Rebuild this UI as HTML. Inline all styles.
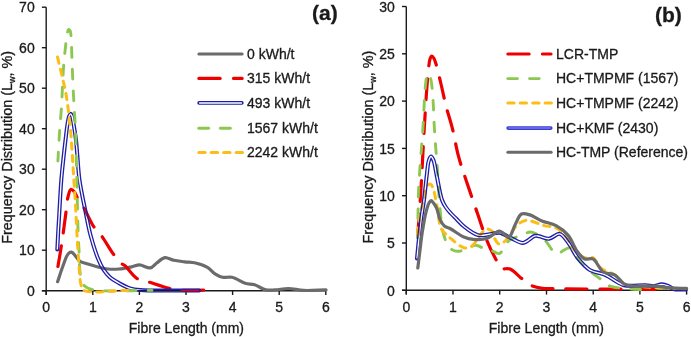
<!DOCTYPE html>
<html><head><meta charset="utf-8"><style>
html,body{margin:0;padding:0;background:#fff;width:691px;height:337px;overflow:hidden}
svg{display:block;will-change:transform}
text{font-family:"Liberation Sans", sans-serif;fill:#1a1a1a;stroke:#1a1a1a;stroke-width:0.3px}
</style></head><body>
<svg width="691" height="337" viewBox="0 0 691 337">
<rect width="691" height="337" fill="#fff"/>
<path d="M46.2 7.2 L46.2 295.0" stroke="#1a1a1a" stroke-width="1.4"/>
<path d="M41.9 290.7 L325.8 290.7" stroke="#1a1a1a" stroke-width="1.4"/>
<path d="M41.9 290.7 L46.2 290.7" stroke="#1a1a1a" stroke-width="1.4"/>
<text x="34.7" y="295.9" text-anchor="end" font-size="14">0</text>
<path d="M41.9 250.2 L46.2 250.2" stroke="#1a1a1a" stroke-width="1.4"/>
<text x="34.7" y="255.4" text-anchor="end" font-size="14">10</text>
<path d="M41.9 209.7 L46.2 209.7" stroke="#1a1a1a" stroke-width="1.4"/>
<text x="34.7" y="214.9" text-anchor="end" font-size="14">20</text>
<path d="M41.9 169.2 L46.2 169.2" stroke="#1a1a1a" stroke-width="1.4"/>
<text x="34.7" y="174.4" text-anchor="end" font-size="14">30</text>
<path d="M41.9 128.7 L46.2 128.7" stroke="#1a1a1a" stroke-width="1.4"/>
<text x="34.7" y="133.9" text-anchor="end" font-size="14">40</text>
<path d="M41.9 88.2 L46.2 88.2" stroke="#1a1a1a" stroke-width="1.4"/>
<text x="34.7" y="93.4" text-anchor="end" font-size="14">50</text>
<path d="M41.9 47.7 L46.2 47.7" stroke="#1a1a1a" stroke-width="1.4"/>
<text x="34.7" y="52.9" text-anchor="end" font-size="14">60</text>
<path d="M41.9 7.2 L46.2 7.2" stroke="#1a1a1a" stroke-width="1.4"/>
<text x="34.7" y="12.4" text-anchor="end" font-size="14">70</text>
<path d="M46.2 290.7 L46.2 295.0" stroke="#1a1a1a" stroke-width="1.4"/>
<text x="46.2" y="312.1" text-anchor="middle" font-size="14">0</text>
<path d="M92.8 290.7 L92.8 295.0" stroke="#1a1a1a" stroke-width="1.4"/>
<text x="92.8" y="312.1" text-anchor="middle" font-size="14">1</text>
<path d="M139.4 290.7 L139.4 295.0" stroke="#1a1a1a" stroke-width="1.4"/>
<text x="139.4" y="312.1" text-anchor="middle" font-size="14">2</text>
<path d="M186.0 290.7 L186.0 295.0" stroke="#1a1a1a" stroke-width="1.4"/>
<text x="186.0" y="312.1" text-anchor="middle" font-size="14">3</text>
<path d="M232.6 290.7 L232.6 295.0" stroke="#1a1a1a" stroke-width="1.4"/>
<text x="232.6" y="312.1" text-anchor="middle" font-size="14">4</text>
<path d="M279.2 290.7 L279.2 295.0" stroke="#1a1a1a" stroke-width="1.4"/>
<text x="279.2" y="312.1" text-anchor="middle" font-size="14">5</text>
<path d="M325.8 290.7 L325.8 295.0" stroke="#1a1a1a" stroke-width="1.4"/>
<text x="325.8" y="312.1" text-anchor="middle" font-size="14">6</text>
<path d="M406.3 6.5 L406.3 294.6" stroke="#1a1a1a" stroke-width="1.4"/>
<path d="M402.0 290.3 L686.6 290.3" stroke="#1a1a1a" stroke-width="1.4"/>
<path d="M402.0 290.3 L406.3 290.3" stroke="#1a1a1a" stroke-width="1.4"/>
<text x="394.8" y="295.5" text-anchor="end" font-size="14">0</text>
<path d="M402.0 243.0 L406.3 243.0" stroke="#1a1a1a" stroke-width="1.4"/>
<text x="394.8" y="248.2" text-anchor="end" font-size="14">5</text>
<path d="M402.0 195.7 L406.3 195.7" stroke="#1a1a1a" stroke-width="1.4"/>
<text x="394.8" y="200.9" text-anchor="end" font-size="14">10</text>
<path d="M402.0 148.4 L406.3 148.4" stroke="#1a1a1a" stroke-width="1.4"/>
<text x="394.8" y="153.6" text-anchor="end" font-size="14">15</text>
<path d="M402.0 101.1 L406.3 101.1" stroke="#1a1a1a" stroke-width="1.4"/>
<text x="394.8" y="106.3" text-anchor="end" font-size="14">20</text>
<path d="M402.0 53.8 L406.3 53.8" stroke="#1a1a1a" stroke-width="1.4"/>
<text x="394.8" y="59.0" text-anchor="end" font-size="14">25</text>
<path d="M402.0 6.5 L406.3 6.5" stroke="#1a1a1a" stroke-width="1.4"/>
<text x="394.8" y="11.7" text-anchor="end" font-size="14">30</text>
<path d="M406.3 290.3 L406.3 294.6" stroke="#1a1a1a" stroke-width="1.4"/>
<text x="406.3" y="312.1" text-anchor="middle" font-size="14">0</text>
<path d="M453.0 290.3 L453.0 294.6" stroke="#1a1a1a" stroke-width="1.4"/>
<text x="453.0" y="312.1" text-anchor="middle" font-size="14">1</text>
<path d="M499.7 290.3 L499.7 294.6" stroke="#1a1a1a" stroke-width="1.4"/>
<text x="499.7" y="312.1" text-anchor="middle" font-size="14">2</text>
<path d="M546.5 290.3 L546.5 294.6" stroke="#1a1a1a" stroke-width="1.4"/>
<text x="546.5" y="312.1" text-anchor="middle" font-size="14">3</text>
<path d="M593.2 290.3 L593.2 294.6" stroke="#1a1a1a" stroke-width="1.4"/>
<text x="593.2" y="312.1" text-anchor="middle" font-size="14">4</text>
<path d="M639.9 290.3 L639.9 294.6" stroke="#1a1a1a" stroke-width="1.4"/>
<text x="639.9" y="312.1" text-anchor="middle" font-size="14">5</text>
<path d="M686.6 290.3 L686.6 294.6" stroke="#1a1a1a" stroke-width="1.4"/>
<text x="686.6" y="312.1" text-anchor="middle" font-size="14">6</text>
<path d="M57.60 281.70 C59.30 276.70 60.88 271.46 62.70 266.70 C64.40 262.26 66.10 256.21 68.10 254.00 C69.14 252.85 70.30 252.06 71.40 252.20 C72.70 252.36 73.99 254.43 75.30 255.80 C76.82 257.38 78.05 259.90 79.90 261.20 C81.70 262.47 83.79 262.80 86.20 263.60 C89.32 264.64 93.46 265.80 97.10 266.70 C100.69 267.59 104.27 268.62 107.90 269.00 C111.51 269.38 114.99 269.32 118.80 269.00 C123.05 268.64 128.42 267.49 132.20 266.70 C135.01 266.11 136.83 264.86 139.50 264.90 C142.75 264.95 147.29 268.48 150.30 267.90 C152.86 267.41 154.41 264.64 156.70 263.00 C159.21 261.20 161.91 258.04 164.80 257.60 C167.65 257.17 170.71 259.61 173.90 260.30 C177.32 261.04 181.09 261.35 184.70 261.80 C188.32 262.25 191.94 262.15 195.60 263.00 C199.53 263.91 204.14 265.31 207.50 267.30 C210.48 269.06 212.36 272.20 215.00 273.90 C217.41 275.45 219.87 276.72 222.60 277.30 C225.51 277.92 228.68 276.58 232.00 277.30 C236.12 278.19 241.09 282.06 245.20 283.30 C248.53 284.30 251.39 283.84 254.60 284.80 C258.26 285.90 262.22 289.11 265.90 289.90 C269.10 290.59 271.91 290.08 275.30 289.90 C279.31 289.69 283.88 288.46 288.40 288.50 C293.26 288.55 297.95 290.11 303.50 290.40 C310.24 290.75 318.50 290.07 326.00 289.90" fill="none" stroke="#6b6b6b" stroke-width="3.2" stroke-linejoin="round" stroke-linecap="round"/>
<path d="M57.60 268.50 C58.90 260.67 60.22 253.46 61.50 245.00 C62.99 235.12 64.71 221.64 65.90 212.80 C66.73 206.61 66.94 201.25 68.00 197.00 C68.75 193.99 69.46 189.93 70.80 189.50 C71.80 189.18 73.42 190.77 74.50 192.00 C75.93 193.63 76.62 196.63 78.00 199.00 C79.53 201.63 81.42 203.69 83.40 207.00 C86.37 211.98 90.03 221.13 93.50 226.30 C96.14 230.23 98.78 232.09 101.60 235.90 C105.29 240.89 109.74 249.09 113.30 254.00 C115.91 257.60 118.31 260.96 120.60 263.00 C122.13 264.37 123.29 264.38 125.00 265.80 C128.12 268.39 132.58 275.77 136.80 278.40 C140.21 280.53 143.38 280.40 147.60 281.70 C153.59 283.54 163.13 286.98 169.30 288.40 C173.75 289.42 176.43 289.85 181.00 290.20 C187.37 290.69 196.33 290.20 204.00 290.20" fill="none" stroke="#ee0000" stroke-width="3.2" stroke-dasharray="21 13" stroke-dashoffset="32.00" stroke-linecap="round" stroke-linejoin="round"/>
<mask id="m22704" maskUnits="userSpaceOnUse" x="0" y="0" width="691" height="337"><rect width="691" height="337" fill="#fff"/><path d="M57.30 249.50 C57.63 243.00 57.96 236.07 58.30 230.00 C58.60 224.67 58.84 221.04 59.20 215.00 C59.75 205.77 60.45 190.68 61.30 180.00 C62.02 170.96 63.02 162.27 63.80 155.00 C64.40 149.36 64.89 145.08 65.50 140.00 C66.13 134.75 66.76 128.41 67.50 124.00 C68.03 120.86 68.47 117.79 69.20 116.00 C69.61 114.99 70.13 113.80 70.60 113.80 C71.07 113.80 71.59 114.99 72.00 116.00 C72.72 117.79 73.05 120.87 73.60 124.00 C74.37 128.41 75.38 134.74 76.00 140.00 C76.60 145.07 76.81 149.37 77.30 155.00 C77.94 162.28 78.30 171.32 79.50 180.00 C80.83 189.58 83.28 200.47 85.20 210.00 C86.95 218.72 88.34 226.85 90.50 235.00 C92.62 243.01 95.46 252.23 98.00 258.50 C99.78 262.90 101.32 266.20 103.40 269.40 C105.27 272.28 107.22 274.77 109.70 277.00 C112.31 279.34 115.54 281.15 118.80 283.00 C122.28 284.97 126.29 287.22 130.00 288.40 C133.35 289.47 135.25 289.68 140.00 290.10 C151.45 291.11 179.33 290.37 199.00 290.50" fill="none" stroke="#000" stroke-width="1.35" stroke-linejoin="round" stroke-linecap="butt"/></mask><path d="M57.30 249.50 C57.63 243.00 57.96 236.07 58.30 230.00 C58.60 224.67 58.84 221.04 59.20 215.00 C59.75 205.77 60.45 190.68 61.30 180.00 C62.02 170.96 63.02 162.27 63.80 155.00 C64.40 149.36 64.89 145.08 65.50 140.00 C66.13 134.75 66.76 128.41 67.50 124.00 C68.03 120.86 68.47 117.79 69.20 116.00 C69.61 114.99 70.13 113.80 70.60 113.80 C71.07 113.80 71.59 114.99 72.00 116.00 C72.72 117.79 73.05 120.87 73.60 124.00 C74.37 128.41 75.38 134.74 76.00 140.00 C76.60 145.07 76.81 149.37 77.30 155.00 C77.94 162.28 78.30 171.32 79.50 180.00 C80.83 189.58 83.28 200.47 85.20 210.00 C86.95 218.72 88.34 226.85 90.50 235.00 C92.62 243.01 95.46 252.23 98.00 258.50 C99.78 262.90 101.32 266.20 103.40 269.40 C105.27 272.28 107.22 274.77 109.70 277.00 C112.31 279.34 115.54 281.15 118.80 283.00 C122.28 284.97 126.29 287.22 130.00 288.40 C133.35 289.47 135.25 289.68 140.00 290.10 C151.45 291.11 179.33 290.37 199.00 290.50" fill="none" stroke="#1e1ea8" stroke-width="4.0" stroke-linejoin="round" stroke-linecap="round" mask="url(#m22704)"/>
<path d="M57.90 161.00 C58.10 157.33 58.26 154.21 58.50 150.00 C58.83 144.32 59.23 136.82 59.70 130.00 C60.19 122.84 60.85 116.43 61.40 108.00 C62.14 96.65 62.67 79.20 63.50 68.00 C64.10 59.87 64.84 53.02 65.50 47.00 C66.00 42.44 66.34 38.21 67.00 35.00 C67.46 32.79 67.86 29.70 68.60 29.50 C69.06 29.38 69.78 30.15 70.20 31.00 C71.14 32.91 71.01 37.88 71.30 42.00 C71.66 47.26 71.77 54.00 72.00 60.00 C72.23 66.00 72.41 71.39 72.70 78.00 C73.05 86.09 73.52 96.17 74.00 105.00 C74.46 113.50 75.12 121.28 75.50 130.00 C75.91 139.54 76.03 150.00 76.30 160.00 C76.57 170.00 76.84 179.28 77.10 190.00 C77.40 202.38 77.60 218.96 78.00 230.00 C78.28 237.81 78.61 242.96 79.00 250.00 C79.43 257.87 79.15 268.48 80.50 275.00 C81.41 279.39 82.11 283.22 84.40 285.70 C86.54 288.01 88.94 288.81 93.40 289.80 C104.26 292.22 132.47 290.20 152.00 290.40" fill="none" stroke="#8cc850" stroke-width="2.9" stroke-dasharray="9.8 11.9" stroke-dashoffset="0.85" stroke-linecap="round" stroke-linejoin="round"/>
<path d="M57.50 57.00 C59.00 63.33 60.59 69.90 62.00 76.00 C63.31 81.66 64.66 86.82 65.70 92.40 C66.77 98.14 67.52 103.94 68.30 110.00 C69.13 116.45 69.88 123.33 70.50 130.00 C71.12 136.66 71.57 143.70 72.00 150.00 C72.39 155.63 72.67 160.67 73.00 166.00 C73.33 171.33 73.63 176.18 74.00 182.00 C74.45 188.97 75.03 196.82 75.50 205.00 C76.04 214.33 76.42 225.00 77.00 235.00 C77.58 245.00 78.28 256.15 79.00 265.00 C79.57 272.03 79.64 279.35 80.80 283.90 C81.50 286.63 81.21 288.68 83.50 290.20 C89.33 294.06 113.17 290.33 128.00 290.40" fill="none" stroke="#fbbd16" stroke-width="3" stroke-dasharray="6.3 6.15" stroke-dashoffset="0.00" stroke-linecap="round" stroke-linejoin="round"/>
<path d="M417.50 239.00 C418.33 227.33 419.29 214.57 420.00 204.00 C420.59 195.25 420.98 189.02 421.50 180.00 C422.17 168.36 422.93 152.03 423.60 140.00 C424.15 130.12 424.66 121.64 425.20 113.00 C425.70 105.03 426.13 97.58 426.70 90.00 C427.26 82.58 427.91 73.71 428.60 68.00 C429.04 64.33 429.22 61.14 430.00 59.00 C430.48 57.67 431.12 56.06 431.80 56.00 C432.46 55.94 433.37 57.43 434.00 58.50 C434.84 59.92 435.26 61.57 436.00 64.00 C437.40 68.56 439.37 77.17 441.00 84.00 C442.71 91.15 444.13 98.67 446.00 106.00 C447.89 113.41 450.31 120.31 452.30 128.20 C454.54 137.08 456.19 147.73 458.60 156.70 C460.81 164.91 463.20 171.53 466.00 180.00 C469.38 190.24 473.97 203.27 477.60 213.80 C480.78 223.04 483.39 231.94 486.60 239.80 C489.38 246.60 492.64 253.24 495.40 258.40 C497.46 262.25 498.60 266.49 501.30 268.20 C503.67 269.70 507.20 267.90 510.10 269.10 C513.75 270.61 517.47 275.16 520.90 277.90 C523.97 280.36 526.30 283.09 529.70 284.80 C533.39 286.66 538.41 287.68 542.40 288.30 C545.85 288.84 547.20 288.58 552.20 288.70 C568.46 289.08 621.40 289.10 656.00 289.30" fill="none" stroke="#ee0000" stroke-width="3.2" stroke-dasharray="21 13" stroke-dashoffset="30.50" stroke-linecap="round" stroke-linejoin="round"/>
<path d="M417.50 238.00 C417.67 230.33 417.83 222.67 418.00 215.00 C418.17 207.33 418.18 199.82 418.50 192.00 C418.83 183.84 419.45 175.06 420.00 167.00 C420.52 159.43 421.16 152.25 421.70 145.00 C422.23 137.92 422.77 131.08 423.20 124.00 C423.64 116.75 423.91 108.63 424.30 102.00 C424.62 96.52 424.86 91.36 425.30 87.00 C425.64 83.61 425.81 80.45 426.50 78.00 C427.01 76.20 427.83 73.50 428.50 73.50 C429.17 73.50 429.96 76.20 430.50 78.00 C431.23 80.45 431.59 83.56 432.00 87.00 C432.55 91.56 432.85 97.24 433.20 103.00 C433.61 109.75 433.80 117.84 434.20 125.00 C434.58 131.83 435.00 138.18 435.50 145.00 C436.03 152.16 436.79 159.58 437.30 167.00 C437.82 174.58 438.09 182.42 438.60 190.00 C439.10 197.42 439.54 204.85 440.30 212.00 C441.02 218.84 441.34 225.84 443.00 232.00 C444.53 237.66 446.39 244.54 449.50 247.70 C451.77 250.00 455.01 251.11 457.80 251.30 C460.51 251.48 463.18 249.94 466.00 249.00 C469.10 247.97 472.42 245.29 475.60 245.30 C478.75 245.31 481.93 247.98 485.00 249.00 C487.85 249.95 490.85 250.49 493.40 251.30 C495.58 252.00 497.40 254.10 499.40 253.50 C502.57 252.55 504.91 243.71 508.90 240.60 C512.76 237.59 518.80 236.45 522.80 234.90 C525.79 233.74 527.77 231.76 530.70 232.00 C534.71 232.33 540.53 236.46 544.40 239.80 C548.21 243.08 550.95 249.53 553.80 251.80 C555.46 253.12 557.00 254.16 558.50 254.00 C560.07 253.84 561.25 251.56 563.00 250.60 C565.01 249.50 567.89 247.34 570.00 248.00 C572.70 248.84 574.13 254.58 577.00 258.00 C580.52 262.20 585.70 267.22 590.00 271.00 C593.79 274.33 597.99 277.07 601.30 279.70 C603.96 281.81 605.44 284.09 608.40 285.50 C612.06 287.24 616.62 287.59 622.10 288.30 C630.15 289.34 642.17 289.43 652.20 290.00" fill="none" stroke="#8cc850" stroke-width="2.9" stroke-dasharray="9.8 11.9" stroke-dashoffset="2.40" stroke-linecap="round" stroke-linejoin="round"/>
<path d="M417.50 234.00 C418.33 227.67 418.96 220.94 420.00 215.00 C420.93 209.68 422.19 204.60 423.30 200.00 C424.26 196.04 425.12 191.82 426.20 189.00 C426.92 187.12 427.49 185.12 428.50 184.50 C429.21 184.06 430.28 184.04 431.00 184.50 C432.11 185.22 432.72 187.70 433.50 190.00 C434.70 193.53 435.61 198.60 436.70 203.90 C438.13 210.88 438.58 222.91 441.10 228.30 C442.60 231.50 444.77 233.06 446.70 235.00 C448.42 236.73 449.84 237.84 452.00 239.50 C455.11 241.89 460.24 246.81 463.80 247.70 C466.28 248.32 468.77 247.83 470.70 246.90 C472.54 246.01 473.69 244.21 475.20 242.40 C477.11 240.10 478.98 236.35 481.00 234.00 C482.71 232.01 484.36 229.38 486.30 229.00 C488.11 228.65 490.85 229.88 492.20 231.30 C493.62 232.80 493.31 235.92 494.40 238.00 C495.52 240.13 497.14 243.39 498.90 243.90 C500.41 244.34 502.37 243.14 504.00 242.00 C506.12 240.52 508.06 237.51 510.00 235.00 C512.07 232.31 513.47 228.71 516.00 226.30 C518.60 223.82 521.65 220.95 525.50 220.40 C530.58 219.67 538.74 224.27 544.30 225.60 C548.67 226.65 552.58 226.26 556.10 228.00 C559.70 229.78 562.75 232.98 565.60 236.30 C568.76 239.98 570.59 245.76 573.90 249.40 C576.99 252.80 581.05 256.49 584.60 257.70 C587.38 258.65 590.39 256.48 592.90 257.70 C596.12 259.26 597.79 265.58 601.30 268.40 C604.96 271.34 610.73 272.10 614.60 274.80 C618.27 277.36 620.15 282.03 624.10 284.00 C628.45 286.17 633.30 285.79 640.00 286.50 C651.33 287.70 670.67 288.17 686.00 289.00" fill="none" stroke="#fbbd16" stroke-width="3" stroke-dasharray="6.3 6.15" stroke-dashoffset="0.00" stroke-linecap="round" stroke-linejoin="round"/>
<mask id="m14336" maskUnits="userSpaceOnUse" x="0" y="0" width="691" height="337"><rect width="691" height="337" fill="#fff"/><path d="M417.00 258.50 C417.60 252.33 418.15 246.28 418.80 240.00 C419.48 233.46 420.13 226.66 421.00 220.00 C421.87 213.32 423.08 207.05 424.00 200.00 C425.03 192.14 425.92 182.13 426.80 175.00 C427.46 169.66 427.66 164.32 428.70 161.00 C429.32 159.02 430.18 156.55 431.00 156.50 C431.75 156.45 432.68 158.33 433.40 160.00 C434.76 163.18 435.39 169.37 436.60 175.00 C438.16 182.28 439.87 194.20 442.00 200.00 C443.23 203.34 444.46 205.21 446.00 207.50 C447.48 209.69 449.25 211.58 451.00 213.50 C452.75 215.41 454.54 217.04 456.50 219.00 C458.76 221.26 460.80 223.92 463.80 226.30 C467.62 229.32 473.29 233.95 478.00 235.10 C481.98 236.07 486.16 234.64 489.90 234.20 C493.25 233.81 496.13 232.24 499.40 232.70 C503.22 233.23 507.32 236.49 511.30 238.20 C515.22 239.88 519.23 243.21 523.10 242.90 C527.14 242.58 531.89 236.48 535.00 235.80 C536.78 235.41 537.74 235.98 539.50 236.30 C542.10 236.77 545.79 238.98 549.00 238.70 C552.51 238.39 556.54 233.31 559.70 233.90 C562.87 234.49 565.33 238.90 568.00 242.30 C571.31 246.51 573.79 253.05 577.50 257.70 C581.17 262.30 585.32 267.24 590.10 270.10 C594.62 272.81 600.01 272.58 605.20 274.80 C611.25 277.38 617.31 283.47 624.00 285.20 C630.65 286.92 639.57 284.93 645.20 285.20 C648.93 285.38 651.63 286.32 654.50 286.10 C657.04 285.91 659.24 284.30 661.60 284.30 C663.94 284.30 666.56 285.23 668.60 286.10 C670.39 286.86 671.25 288.37 673.30 289.00 C676.41 289.95 681.77 289.33 686.00 289.50" fill="none" stroke="#000" stroke-width="1.35" stroke-linejoin="round" stroke-linecap="butt"/></mask><path d="M417.00 258.50 C417.60 252.33 418.15 246.28 418.80 240.00 C419.48 233.46 420.13 226.66 421.00 220.00 C421.87 213.32 423.08 207.05 424.00 200.00 C425.03 192.14 425.92 182.13 426.80 175.00 C427.46 169.66 427.66 164.32 428.70 161.00 C429.32 159.02 430.18 156.55 431.00 156.50 C431.75 156.45 432.68 158.33 433.40 160.00 C434.76 163.18 435.39 169.37 436.60 175.00 C438.16 182.28 439.87 194.20 442.00 200.00 C443.23 203.34 444.46 205.21 446.00 207.50 C447.48 209.69 449.25 211.58 451.00 213.50 C452.75 215.41 454.54 217.04 456.50 219.00 C458.76 221.26 460.80 223.92 463.80 226.30 C467.62 229.32 473.29 233.95 478.00 235.10 C481.98 236.07 486.16 234.64 489.90 234.20 C493.25 233.81 496.13 232.24 499.40 232.70 C503.22 233.23 507.32 236.49 511.30 238.20 C515.22 239.88 519.23 243.21 523.10 242.90 C527.14 242.58 531.89 236.48 535.00 235.80 C536.78 235.41 537.74 235.98 539.50 236.30 C542.10 236.77 545.79 238.98 549.00 238.70 C552.51 238.39 556.54 233.31 559.70 233.90 C562.87 234.49 565.33 238.90 568.00 242.30 C571.31 246.51 573.79 253.05 577.50 257.70 C581.17 262.30 585.32 267.24 590.10 270.10 C594.62 272.81 600.01 272.58 605.20 274.80 C611.25 277.38 617.31 283.47 624.00 285.20 C630.65 286.92 639.57 284.93 645.20 285.20 C648.93 285.38 651.63 286.32 654.50 286.10 C657.04 285.91 659.24 284.30 661.60 284.30 C663.94 284.30 666.56 285.23 668.60 286.10 C670.39 286.86 671.25 288.37 673.30 289.00 C676.41 289.95 681.77 289.33 686.00 289.50" fill="none" stroke="#1e1ea8" stroke-width="4.0" stroke-linejoin="round" stroke-linecap="round" mask="url(#m14336)"/>
<path d="M417.80 268.00 C418.53 262.00 419.26 255.93 420.00 250.00 C420.73 244.20 421.27 238.79 422.20 232.80 C423.23 226.18 424.60 217.46 426.00 212.00 C426.94 208.34 427.87 204.97 429.00 203.00 C429.66 201.86 430.36 200.62 431.10 200.60 C431.86 200.57 432.70 201.98 433.50 203.00 C434.57 204.37 435.74 206.14 436.70 208.30 C438.01 211.26 438.54 216.25 440.00 219.40 C441.22 222.02 442.57 224.57 444.40 226.10 C445.99 227.43 447.77 227.34 450.00 228.50 C453.64 230.39 459.50 235.18 463.80 237.00 C467.15 238.41 469.79 239.11 473.30 239.40 C477.53 239.75 483.12 239.61 487.50 238.20 C491.81 236.81 495.67 231.07 499.40 231.10 C502.75 231.13 506.36 237.71 508.90 237.00 C511.69 236.22 512.87 228.88 515.00 225.00 C517.08 221.22 518.62 215.45 521.50 214.00 C523.86 212.82 527.01 214.02 530.00 214.90 C533.73 216.00 537.69 219.15 541.90 220.90 C546.36 222.75 551.77 223.25 556.10 225.60 C560.47 227.97 564.57 231.09 568.00 235.10 C571.85 239.60 574.27 247.56 577.50 251.80 C579.83 254.86 581.88 257.77 584.60 258.90 C587.07 259.92 590.27 257.63 592.90 258.90 C596.64 260.70 599.26 269.40 603.30 272.00 C606.67 274.17 611.21 272.95 614.60 274.80 C618.19 276.77 620.69 281.93 624.10 283.80 C627.02 285.40 629.64 285.64 633.40 286.10 C638.98 286.78 647.91 285.74 654.50 286.10 C660.35 286.42 665.57 287.52 671.00 287.90 C676.27 288.27 681.40 288.23 686.60 288.40" fill="none" stroke="#6b6b6b" stroke-width="3.2" stroke-linejoin="round" stroke-linecap="round"/>
<path d="M198.9 54.0 L242.1 54.0" stroke="#6b6b6b" stroke-width="3.10" stroke-linecap="round"/>
<text x="247" y="58.8" font-size="14">0 kWh/t</text>
<path d="M198.9 78.4 L220.1 78.4" stroke="#ee0000" stroke-width="3.20" stroke-linecap="round"/><path d="M233.5 78.4 L242.1 78.4" stroke="#ee0000" stroke-width="3.20" stroke-linecap="round"/>
<text x="247" y="83.2" font-size="14">315 kWh/t</text>
<path d="M199.1 102.9 L241.9 102.9" stroke="#1e1ea8" stroke-width="3.6" stroke-linecap="round"/><path d="M199.1 102.9 L241.9 102.9" stroke="#ffffff" stroke-width="1.5" stroke-linecap="butt"/>
<text x="247" y="107.7" font-size="14">493 kWh/t</text>
<path d="M198.8 128.2 L208.6 128.2" stroke="#8cc850" stroke-width="2.90" stroke-linecap="round"/><path d="M220.4 128.2 L230.3 128.2" stroke="#8cc850" stroke-width="2.90" stroke-linecap="round"/>
<text x="247" y="133.0" font-size="14">1567 kWh/t</text>
<path d="M198.8 152.5 L205.1 152.5" stroke="#fbbd16" stroke-width="3.00" stroke-linecap="round"/><path d="M211.2 152.5 L217.6 152.5" stroke="#fbbd16" stroke-width="3.00" stroke-linecap="round"/><path d="M223.7 152.5 L230.0 152.5" stroke="#fbbd16" stroke-width="3.00" stroke-linecap="round"/><path d="M236.2 152.5 L242.5 152.5" stroke="#fbbd16" stroke-width="3.00" stroke-linecap="round"/>
<text x="247" y="157.3" font-size="14">2242 kWh/t</text>
<path d="M507.9 54.0 L529.1 54.0" stroke="#ee0000" stroke-width="3.20" stroke-linecap="round"/><path d="M542.4 54.0 L551.0 54.0" stroke="#ee0000" stroke-width="3.20" stroke-linecap="round"/>
<text x="556" y="58.8" font-size="14">LCR-TMP</text>
<path d="M507.8 78.6 L517.5 78.6" stroke="#8cc850" stroke-width="2.90" stroke-linecap="round"/><path d="M529.5 78.6 L539.2 78.6" stroke="#8cc850" stroke-width="2.90" stroke-linecap="round"/>
<text x="556" y="83.4" font-size="14">HC+TMPMF (1567)</text>
<path d="M507.8 103.0 L514.1 103.0" stroke="#fbbd16" stroke-width="3.00" stroke-linecap="round"/><path d="M520.2 103.0 L526.5 103.0" stroke="#fbbd16" stroke-width="3.00" stroke-linecap="round"/><path d="M532.7 103.0 L539.0 103.0" stroke="#fbbd16" stroke-width="3.00" stroke-linecap="round"/><path d="M545.1 103.0 L551.4 103.0" stroke="#fbbd16" stroke-width="3.00" stroke-linecap="round"/>
<text x="556" y="107.8" font-size="14">HC+TMPMF (2242)</text>
<path d="M508.1 128.1 L550.8 128.1" stroke="#3a3acc" stroke-width="3.6" stroke-linecap="round"/><path d="M508.1 128.1 L550.8 128.1" stroke="#7676f4" stroke-width="1.5" stroke-linecap="butt"/>
<text x="556" y="132.9" font-size="14">HC+KMF (2430)</text>
<path d="M507.9 152.3 L551.1 152.3" stroke="#6b6b6b" stroke-width="3.10" stroke-linecap="round"/>
<text x="556" y="157.1" font-size="14">HC-TMP (Reference)</text>
<text x="312" y="20.4" font-size="21" font-weight="bold">(a)</text>
<text x="655" y="21.5" font-size="21" font-weight="bold">(b)</text>
<text x="186.4" y="332.8" text-anchor="middle" font-size="14">Fibre Length (mm)</text>
<text x="546.4" y="332.8" text-anchor="middle" font-size="14">Fibre Length (mm)</text>
<text transform="translate(12.2,147.3) rotate(-90)" text-anchor="middle" font-size="14.4">Frequency Distribution (L<tspan font-size="9" dy="3">w</tspan><tspan dy="-3">, %)</tspan></text>
<text transform="translate(372.6,147) rotate(-90)" text-anchor="middle" font-size="14.4">Frequency Distribution (L<tspan font-size="9" dy="3">w</tspan><tspan dy="-3">, %)</tspan></text>
</svg>
</body></html>
